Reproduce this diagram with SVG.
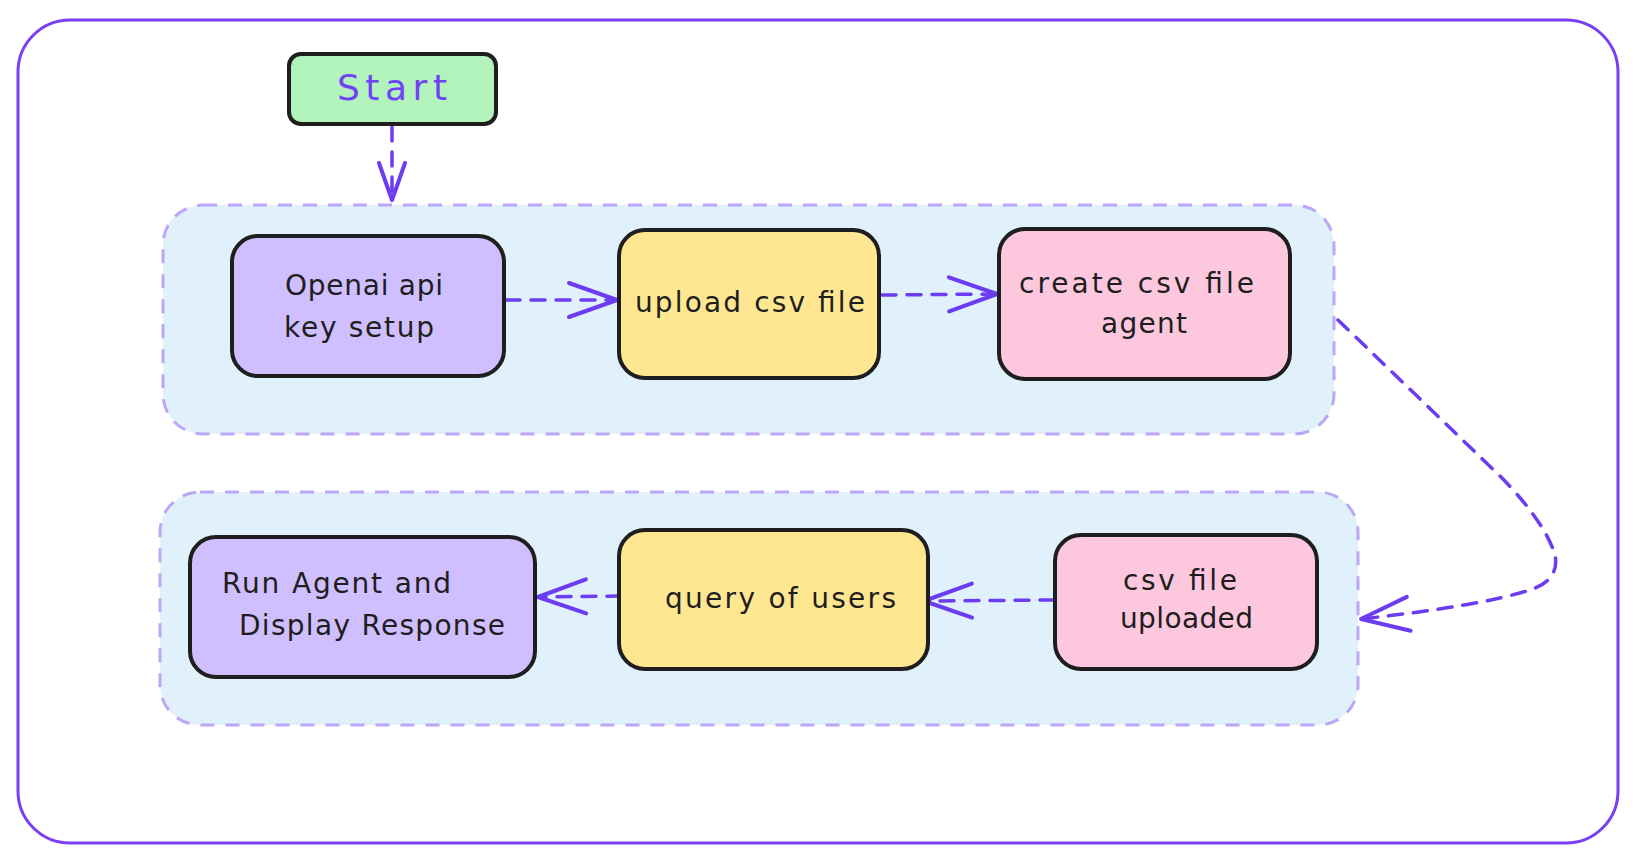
<svg xmlns="http://www.w3.org/2000/svg" width="1636" height="864" viewBox="0 0 1636 864">
<defs>
<style>
.frame{fill:#ffffff;stroke:#7a3ff2;stroke-width:3}
.group{fill:#e1f1fc;stroke:#bba6f7;stroke-width:3;stroke-dasharray:14 11}
.node{stroke:#1e1e1e;stroke-width:4}
.green{fill:#b2f2bb}
.purple{fill:#d0bfff}
.yellow{fill:#ffe792}
.pink{fill:#fdc8dd}
.lbl{font-family:"DejaVu Sans","Liberation Sans",sans-serif;font-size:28px;fill:#1e1e1e}
.start{font-family:"DejaVu Sans","Liberation Sans",sans-serif;font-size:36px;fill:#6f42f5}
.edge{fill:none;stroke:#6c3cf0;stroke-width:3.5;stroke-dasharray:14 11;stroke-linecap:round}
</style>
<marker id="arr" markerUnits="userSpaceOnUse" markerWidth="60" markerHeight="44" viewBox="-50 -22 60 44" refX="0" refY="0" orient="auto" overflow="visible">
<path d="M-48,-17 L0,0 L-48,17" fill="none" stroke="#6c3cf0" stroke-width="4" stroke-linecap="round" stroke-linejoin="round"/>
</marker>
<marker id="arrv" markerUnits="userSpaceOnUse" markerWidth="50" markerHeight="30" viewBox="-40 -15 50 30" refX="0" refY="0" orient="auto" overflow="visible">
<path d="M-37,-13 L0,0 L-37,13" fill="none" stroke="#6c3cf0" stroke-width="4" stroke-linecap="round" stroke-linejoin="round"/>
</marker>
</defs>
<rect width="1636" height="864" fill="#ffffff"/>
<rect class="frame" x="18" y="20" width="1600" height="823" rx="52" ry="52"/>

<g id="group-row1"><rect class="group" x="163" y="205" width="1171" height="229" rx="40" ry="40"/></g>
<g id="group-row2"><rect class="group" x="160" y="492" width="1198" height="233" rx="40" ry="40"/></g>

<g id="connectors">
<path class="edge" d="M392,127 L392,200" marker-end="url(#arrv)"/>
<path class="edge" d="M506,300 L617,300" marker-end="url(#arr)"/>
<path class="edge" d="M882,295 L997,294" marker-end="url(#arr)"/>
<path class="edge" d="M1338,320 L1500,476 Q1545,522 1555,555 Q1560,580 1530,590 Q1480,606 1361,619" marker-end="url(#arr)"/>
<path class="edge" d="M1054,600 L924,601" marker-end="url(#arr)"/>
<path class="edge" d="M621,596 L538,597" marker-end="url(#arr)"/>
</g>

<g id="node-start">
<rect class="node green" x="289" y="54" width="207" height="70" rx="12" ry="12"/>
<text class="start" x="337" y="100" textLength="110" lengthAdjust="spacing">Start</text>
</g>
<g id="node-openai">
<rect class="node purple" x="232" y="236" width="272" height="140" rx="26" ry="26"/>
<text class="lbl" x="285" y="295" textLength="158" lengthAdjust="spacing">Openai api</text>
<text class="lbl" x="284" y="337" textLength="150" lengthAdjust="spacing">key setup</text>
</g>
<g id="node-upload">
<rect class="node yellow" x="619" y="230" width="260" height="148" rx="26" ry="26"/>
<text class="lbl" x="635" y="312" textLength="230" lengthAdjust="spacing">upload csv file</text>
</g>
<g id="node-create">
<rect class="node pink" x="999" y="229" width="291" height="150" rx="26" ry="26"/>
<text class="lbl" x="1019" y="293" textLength="235" lengthAdjust="spacing">create csv file</text>
<text class="lbl" x="1101" y="333" textLength="86" lengthAdjust="spacing">agent</text>
</g>
<g id="node-csv-uploaded">
<rect class="node pink" x="1055" y="535" width="262" height="134" rx="26" ry="26"/>
<text class="lbl" x="1123" y="590" textLength="114" lengthAdjust="spacing">csv file</text>
<text class="lbl" x="1120" y="628" textLength="133" lengthAdjust="spacing">uploaded</text>
</g>
<g id="node-query">
<rect class="node yellow" x="619" y="530" width="309" height="139" rx="26" ry="26"/>
<text class="lbl" x="665" y="608" textLength="231" lengthAdjust="spacing">query of users</text>
</g>
<g id="node-run">
<rect class="node purple" x="190" y="537" width="345" height="140" rx="26" ry="26"/>
<text class="lbl" x="222" y="593" textLength="229" lengthAdjust="spacing">Run Agent and</text>
<text class="lbl" x="239" y="635" textLength="266" lengthAdjust="spacing">Display Response</text>
</g>
</svg>
